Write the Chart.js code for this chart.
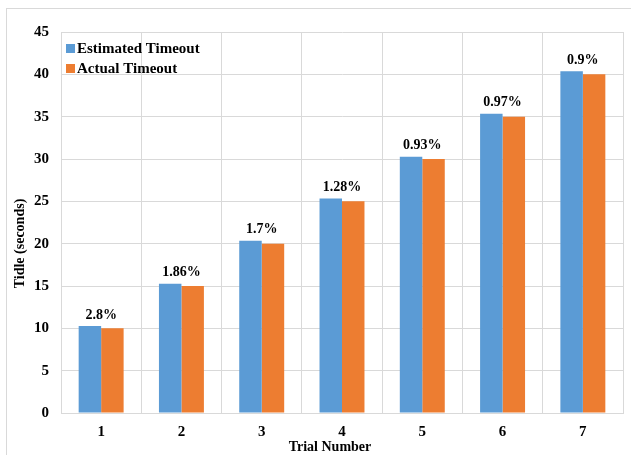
<!DOCTYPE html>
<html>
<head>
<meta charset="utf-8">
<script src="https://cdn.jsdelivr.net/npm/chart.js@4.4.1/dist/chart.umd.min.js"></script>
<style>
	html, body { margin: 0; padding: 0; background: #fff; }
	#chart-container { width: 631px; height: 455px; position: relative; }
</style>
</head>
<body>
<div id="chart-container"><canvas id="timeout-chart"></canvas></div>
<script>
const trials = ['1', '2', '3', '4', '5', '6', '7'];
const estimatedTimeout = [10.28, 15.28, 20.34, 25.32, 30.28, 35.34, 40.36];
const actualTimeout = [10, 15, 20, 25, 30, 35, 40];
const errorLabels = ['2.8%', '1.86%', '1.7%', '1.28%', '0.93%', '0.97%', '0.9%'];

const serif = '"Liberation Serif", "Times New Roman", serif';
const black = '#000';

// outer frame round the whole figure
const frame = {
	id: 'frame',
	beforeDraw: chart => {
		const ctx = chart.ctx;
		ctx.save();
		ctx.fillStyle = '#fff';
		ctx.fillRect(0, 0, chart.width, chart.height);
		ctx.strokeStyle = '#d9d9d9';
		ctx.lineWidth = 1;
		ctx.strokeRect(6.5, 8.5, chart.width, chart.height);
		ctx.restore();
	}
};

// axis titles, placed by hand so they sit a little off the plot centre
const axisTitles = {
	id: 'axisTitles',
	afterDraw: chart => {
		const ctx = chart.ctx;
		const area = chart.chartArea;
		ctx.save();
		ctx.font = `bold 14px ${serif}`;
		ctx.fillStyle = black;
		ctx.textAlign = 'center';
		ctx.textBaseline = 'middle';
		ctx.fillText('Trial Number', area.left + (area.right - area.left) / 2 - 12, chart.height - 8);
		ctx.translate(20, (area.top + area.bottom) / 2 + 21);
		ctx.rotate(-Math.PI / 2);
		ctx.fillText('Tidle (seconds)', 0, 0);
		ctx.restore();
	}
};

// percent labels centred over each pair of bars
const pairLabels = {
	id: 'pairLabels',
	afterDatasetsDraw: chart => {
		const ctx = chart.ctx;
		const x = chart.scales.x;
		const y = chart.scales.y;
		ctx.save();
		ctx.font = `bold 14px ${serif}`;
		ctx.fillStyle = black;
		ctx.textAlign = 'center';
		ctx.textBaseline = 'bottom';
		errorLabels.forEach((label, i) => {
			const top = Math.max(estimatedTimeout[i], actualTimeout[i]);
			ctx.fillText(label, x.getPixelForValue(i), y.getPixelForValue(top) - 4);
		});
		ctx.restore();
	}
};

// legend sits inside the plot, top left
const innerLegend = {
	id: 'innerLegend',
	afterDraw: chart => {
		const ctx = chart.ctx;
		const area = chart.chartArea;
		ctx.save();
		ctx.font = `bold 15px ${serif}`;
		ctx.textBaseline = 'middle';
		ctx.textAlign = 'left';
		chart.data.datasets.forEach((ds, i) => {
			const cy = area.top + 16 + i * 20;
			ctx.fillStyle = ds.backgroundColor;
			ctx.fillRect(area.left + 5, cy - 4, 9, 9);
			ctx.fillStyle = black;
			ctx.fillText(ds.label, area.left + 16, cy + 1);
		});
		ctx.restore();
	}
};

const config = {
	type: 'bar',
	data: {
		labels: trials,
		datasets: [{
			label: 'Estimated Timeout',
			data: estimatedTimeout,
			backgroundColor: '#5b9bd5',
			categoryPercentage: 0.56,
			barPercentage: 1
		}, {
			label: 'Actual Timeout',
			data: actualTimeout,
			backgroundColor: '#ed7d31',
			categoryPercentage: 0.56,
			barPercentage: 1
		}]
	},
	options: {
		responsive: true,
		maintainAspectRatio: false,
		animation: false,
		layout: {
			padding: { left: 0, right: 8, top: 32, bottom: 0 }
		},
		plugins: {
			legend: { display: false },
			tooltip: { enabled: false }
		},
		scales: {
			x: {
				grid: { color: '#d9d9d9', drawTicks: false },
				border: { color: '#d9d9d9' },
				ticks: {
					color: black,
					padding: 10,
					font: { family: serif, size: 15, weight: 'bold' }
				},
				afterFit: scale => { scale.height = 42; }
			},
			y: {
				min: 0,
				max: 45,
				grid: { color: '#d9d9d9', drawTicks: false },
				border: { color: '#d9d9d9' },
				ticks: {
					stepSize: 5,
					color: black,
					padding: 12,
					font: { family: serif, size: 15, weight: 'bold' }
				},
				afterFit: scale => { scale.width = 61; }
			}
		}
	},
	plugins: [frame, axisTitles, pairLabels, innerLegend]
};

new Chart(document.getElementById('timeout-chart'), config);
</script>
</body>
</html>
